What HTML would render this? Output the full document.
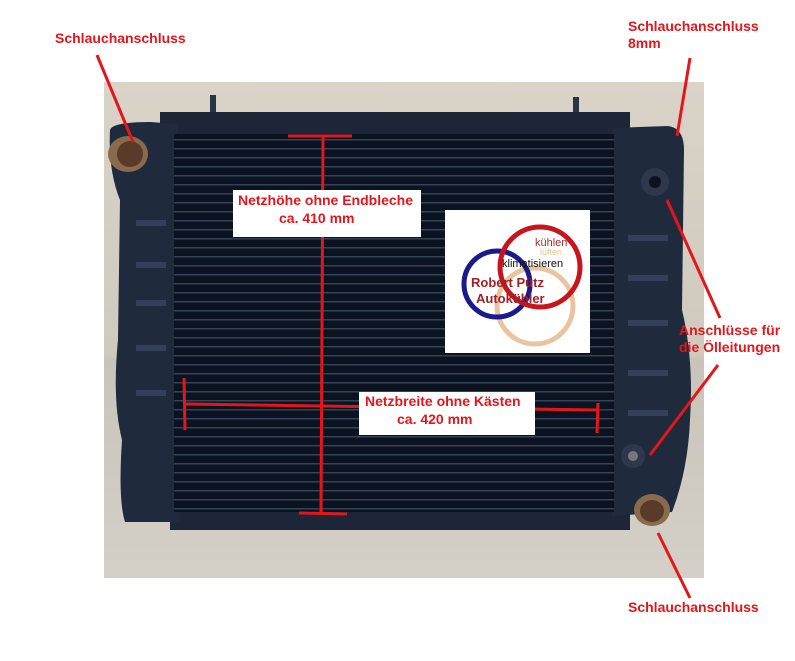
<!DOCTYPE html>
<html><head><meta charset="utf-8"><style>
body{margin:0;width:795px;height:661px;background:#fff;position:relative;overflow:hidden;font-family:"Liberation Sans",sans-serif}
.a{position:absolute}
.t{position:absolute;color:#e3161b;font-weight:bold;font-size:14px;line-height:17px;white-space:nowrap}
</style></head><body>
<div class="a" style="left:104px;top:82px;width:600px;height:496px;background:linear-gradient(#d9d3c8,#cfc9be 55%,#c9c4ba 56%,#d4d0c8)"></div>
<svg class="a" style="left:0;top:0" width="795" height="661">
<defs>
<pattern id="fin" width="10" height="9" patternUnits="userSpaceOnUse">
<rect width="10" height="9" fill="#0b1320"/><rect y="4" width="10" height="1.5" fill="#34425a"/>
</pattern>
</defs>
<rect x="210" y="95" width="6" height="22" fill="#2a3444"/>
<rect x="573" y="97" width="6" height="20" fill="#2a3444"/>
<rect x="160" y="112" width="470" height="24" fill="#1c2638"/>
<rect x="170" y="508" width="460" height="22" fill="#1c2638"/>
<path d="M110 130 Q112 122 150 122 L178 124 L180 522 L125 522 Q118 500 122 440 Q112 400 118 340 L120 200 Q108 170 110 130Z" fill="#1f2a3d"/>
<path d="M612 128 L668 126 Q684 128 684 150 L682 310 Q694 360 690 420 Q688 470 672 512 L612 516Z" fill="#1f2a3d"/>
<g fill="#34405a">
<rect x="136" y="220" width="30" height="6"/><rect x="136" y="262" width="30" height="6"/><rect x="136" y="300" width="30" height="6"/><rect x="136" y="345" width="30" height="6"/><rect x="136" y="390" width="30" height="6"/>
<rect x="628" y="235" width="40" height="6"/><rect x="628" y="275" width="40" height="6"/><rect x="628" y="320" width="40" height="6"/><rect x="628" y="370" width="40" height="6"/><rect x="628" y="410" width="40" height="6"/>
</g>
<rect x="174" y="134" width="440" height="378" fill="url(#fin)"/>
<ellipse cx="128" cy="154" rx="20" ry="18" fill="#8a6a4c"/><ellipse cx="130" cy="154" rx="13" ry="13" fill="#5a3a28"/>
<ellipse cx="652" cy="510" rx="18" ry="16" fill="#8a6a4c"/><ellipse cx="652" cy="511" rx="12" ry="11" fill="#5a3a28"/>
<circle cx="655" cy="182" r="14" fill="#2d384c"/><circle cx="655" cy="182" r="6" fill="#0c1220"/>
<circle cx="633" cy="456" r="12" fill="#2d384c"/><circle cx="633" cy="456" r="5" fill="#777"/>
<g stroke="#e3161b" stroke-width="3" fill="none">
<line x1="97" y1="55" x2="133" y2="142"/>
<line x1="690" y1="58" x2="677" y2="136"/>
<line x1="667" y1="200" x2="720" y2="318"/>
<line x1="718" y1="365" x2="650" y2="455"/>
<line x1="658" y1="533" x2="690" y2="598"/>
<line x1="323" y1="137" x2="321" y2="513"/>
<line x1="288" y1="136" x2="352" y2="136"/>
<line x1="299" y1="513" x2="347" y2="514"/>
<line x1="185" y1="404" x2="598" y2="410"/>
<line x1="184" y1="378" x2="185" y2="430"/>
<line x1="598" y1="403" x2="597" y2="433"/>
</g>
</svg>
<div class="a" style="left:233px;top:190px;width:188px;height:47px;background:#fff"></div>
<div class="t" style="left:238px;top:192px">Netzhöhe ohne Endbleche</div>
<div class="t" style="left:279px;top:210px">ca. 410 mm</div>
<div class="a" style="left:359px;top:392px;width:176px;height:43px;background:#fff"></div>
<div class="t" style="left:365px;top:393px">Netzbreite ohne Kästen</div>
<div class="t" style="left:397px;top:411px">ca. 420 mm</div>
<div class="t" style="left:55px;top:30px">Schlauchanschluss</div>
<div class="t" style="left:628px;top:18px">Schlauchanschluss<br>8mm</div>
<div class="t" style="left:679px;top:322px">Anschlüsse für<br>die Ölleitungen</div>
<div class="t" style="left:628px;top:599px">Schlauchanschluss</div>
<div class="a" style="left:445px;top:210px;width:145px;height:143px;background:#fff"></div>
<svg class="a" style="left:445px;top:210px" width="145" height="143">
<circle cx="90" cy="96" r="38" fill="none" stroke="#e8c4a0" stroke-width="5"/>
<circle cx="52" cy="74" r="33" fill="none" stroke="#1a1a8a" stroke-width="5"/>
<circle cx="95" cy="57" r="40" fill="none" stroke="#c8141c" stroke-width="5"/>
<text x="90" y="36" font-size="11" fill="#a0302a" font-family="Liberation Sans">kühlen</text>
<text x="95" y="45" font-size="9" fill="#e0c890" font-family="Liberation Sans">lüften</text>
<text x="57" y="57" font-size="11" fill="#111" font-family="Liberation Sans">klimatisieren</text>
<text x="26" y="77" font-size="13" font-weight="bold" fill="#a02028" font-family="Liberation Sans">Robert Pütz</text>
<text x="31" y="93" font-size="13" font-weight="bold" fill="#a02028" font-family="Liberation Sans">Autokühler</text>
</svg>
</body></html>
